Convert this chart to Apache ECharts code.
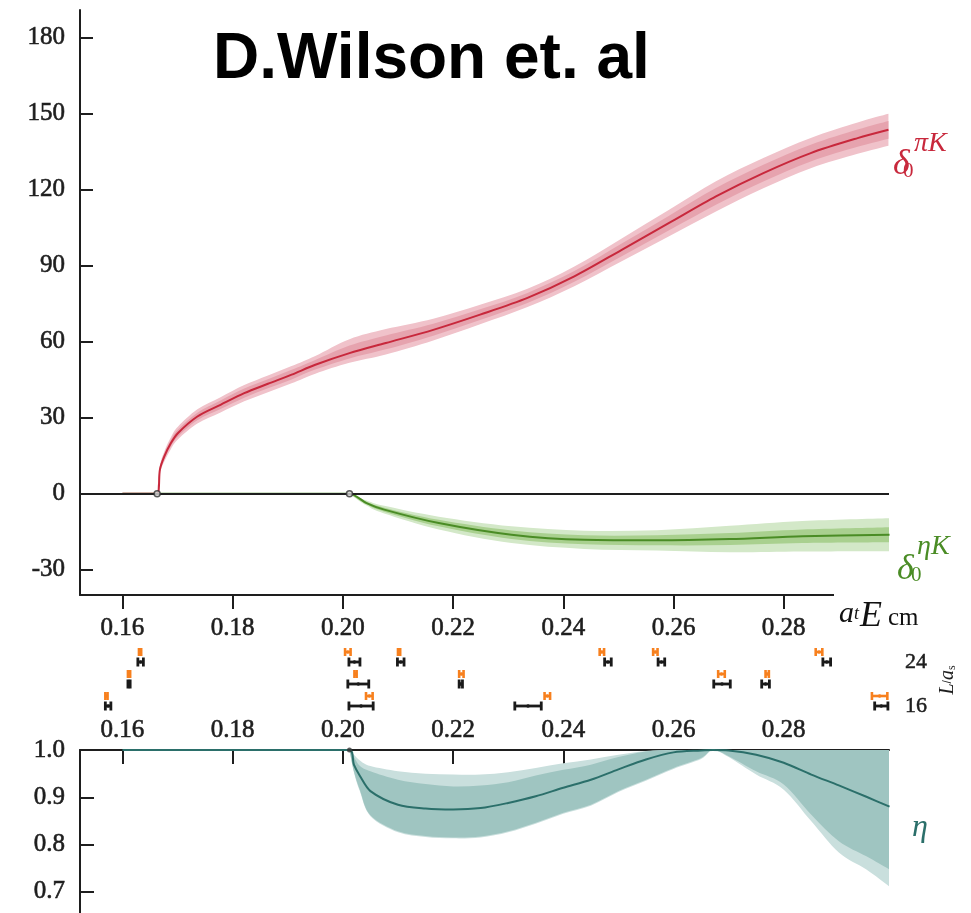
<!DOCTYPE html>
<html>
<head>
<meta charset="utf-8">
<script src="https://cdn.jsdelivr.net/npm/echarts@6/dist/echarts.min.js"></script>
<style>
  html, body { margin: 0; padding: 0; background: #fff; }
  #chart { width: 971px; height: 913px; }
</style>
</head>
<body>
<div id="chart"></div>
<script>
// ---- axes ----
const XMIN = 0.1523, XMAX = 0.2991;
const xTicks = [0.16, 0.18, 0.20, 0.22, 0.24, 0.26, 0.28];
const deltaTicks = [-30, 0, 30, 60, 90, 120, 150, 180];
const etaTicks = [0.7, 0.8, 0.9, 1.0];
const volumes = ['16', '20', '24'];

// ---- thresholds (πK and ηK openings) ----
const thresholds = [[0.1663, 0], [0.2012, 0]];
const etaThreshold = [[0.2012, 1.0]];

// ---- δ0 πK phase shift (degrees) ----
const piK_x     = [0.1600, 0.1663, 0.1668, 0.1676, 0.1688, 0.1701, 0.1736, 0.1778, 0.1821, 0.1864, 0.1907, 0.1950, 0.2012, 0.2078, 0.2164, 0.2249, 0.2335, 0.2420, 0.2506, 0.2592, 0.2677, 0.2763, 0.2849, 0.2934, 0.2990];
const piK_mid   = [0, 0, 9.5, 14.7, 20.0, 24.0, 30.5, 35.1, 39.7, 43.4, 47.0, 50.9, 55.5, 59.5, 64.7, 70.7, 77.3, 85.8, 96.3, 106.9, 117.4, 126.6, 134.5, 140.4, 143.7];
const piK_hiOut = [0, 0, 11.0, 16.7, 22.3, 26.5, 33.3, 38.1, 42.9, 46.7, 50.4, 54.4, 61.0, 65.0, 69.1, 74.6, 80.9, 89.7, 100.8, 112.1, 123.4, 132.6, 140.5, 146.6, 150.0];
const piK_loOut = [0, 0, 8.0, 12.7, 17.7, 21.5, 27.7, 32.1, 36.5, 40.1, 43.6, 47.4, 51.7, 55.0, 60.5, 66.9, 73.7, 81.9, 91.8, 101.7, 111.4, 120.6, 128.5, 134.2, 137.4];
const piK_hiIn  = [0, 0, 10.3, 15.8, 21.3, 25.4, 32.0, 36.8, 41.5, 45.2, 48.9, 52.8, 58.5, 62.5, 67.1, 72.8, 79.3, 87.9, 98.8, 109.8, 120.7, 129.9, 137.8, 143.8, 147.2];
const piK_loIn  = [0, 0, 8.7, 13.6, 18.7, 22.6, 29.0, 33.4, 37.9, 41.6, 45.1, 49.0, 53.4, 57.0, 62.4, 68.6, 75.3, 83.7, 93.8, 104.0, 114.1, 123.3, 131.2, 137.0, 140.2];

// ---- δ0 ηK phase shift (degrees) ----
const etaK_x     = [0.1600, 0.2012, 0.2043, 0.2075, 0.2174, 0.2306, 0.2438, 0.2570, 0.2702, 0.2834, 0.2992];
const etaK_mid   = [0, 0, -3.7, -6.3, -11.6, -16.2, -18.2, -18.4, -17.9, -16.8, -16.2];
const etaK_hiOut = [0, 0, -2.7, -4.8, -9.1, -12.9, -14.6, -14.4, -12.7, -10.8, -9.7];
const etaK_loOut = [0, 0, -4.7, -7.8, -14.1, -19.5, -21.8, -22.4, -23.1, -22.8, -22.7];
const etaK_hiIn  = [0, 0, -3.2, -5.5, -10.3, -14.5, -16.4, -16.4, -15.5, -14.1, -13.2];
const etaK_loIn  = [0, 0, -4.2, -7.1, -12.9, -17.9, -20.0, -20.4, -20.3, -19.5, -19.2];

// ---- inelasticity η ----
const eta_x     = [0.1600, 0.2012, 0.2020, 0.2031, 0.2050, 0.2100, 0.2150, 0.2200, 0.2250, 0.2300, 0.2350, 0.2400, 0.2450, 0.2500, 0.2550, 0.2600, 0.2650, 0.2671, 0.2700, 0.2750, 0.2800, 0.2850, 0.2900, 0.2950, 0.2992];
const eta_mid   = [1, 1, 0.969, 0.945, 0.913, 0.884, 0.876, 0.874, 0.877, 0.888, 0.902, 0.920, 0.937, 0.959, 0.980, 0.995, 0.999, 1.0, 0.999, 0.990, 0.973, 0.948, 0.925, 0.901, 0.880];
const eta_hiOut = [1, 1, 0.990, 0.978, 0.966, 0.955, 0.950, 0.948, 0.948, 0.953, 0.962, 0.972, 0.980, 0.990, 0.998, 1.0, 1.0, 1.0, 1.0, 1.0, 1.0, 1.0, 1.0, 1.0, 1.0];
const eta_hiIn  = [1, 1, 0.985, 0.966, 0.955, 0.937, 0.928, 0.923, 0.925, 0.932, 0.946, 0.958, 0.969, 0.985, 0.997, 1.0, 1.0, 1.0, 1.0, 1.0, 1.0, 1.0, 1.0, 1.0, 1.0];
const eta_loIn  = [1, 1, 0.955, 0.915, 0.862, 0.828, 0.818, 0.815, 0.817, 0.828, 0.846, 0.867, 0.884, 0.913, 0.937, 0.962, 0.983, 1.0, 0.987, 0.955, 0.927, 0.863, 0.807, 0.775, 0.747];
const eta_loOut = [1, 1, 0.953, 0.912, 0.860, 0.826, 0.816, 0.813, 0.815, 0.826, 0.844, 0.865, 0.882, 0.911, 0.935, 0.960, 0.981, 1.0, 0.985, 0.948, 0.916, 0.849, 0.783, 0.747, 0.711];

// ---- finite-volume energy levels: [energy, error] per volume ----
const levels24 = [[0.1633, 0.0005], [0.2021, 0.0010], [0.2105, 0.0006], [0.2481, 0.0006], [0.2578, 0.0006], [0.2878, 0.0007]];
const levels20 = [[0.1612, 0.0002], [0.2028, 0.0019], [0.2214, 0.0003], [0.2688, 0.0015], [0.2767, 0.0007]];
const levels16 = [[0.1574, 0.0005], [0.2033, 0.0022], [0.2336, 0.0024], [0.2977, 0.0012]];
const model24  = [[0.1632, 0.0002], [0.2009, 0.0005], [0.2102, 0.0002], [0.2470, 0.0004], [0.2567, 0.0004], [0.2864, 0.0006]];
const model20  = [[0.1612, 0.0002], [0.2023, 0.0002], [0.2215, 0.0004], [0.2687, 0.0006], [0.2770, 0.0003]];
const model16  = [[0.1571, 0.0002], [0.2048, 0.0006], [0.2371, 0.0005], [0.2974, 0.0014]];

// ---- colours ----
const RED = '#c8283c', RED_OUT = '#f0c2ca', RED_IN = '#e6a3ae';
const GREEN = '#4a8c25', GREEN_OUT = '#d3e8c8', GREEN_IN = '#a9d08f';
const TEAL = '#2b6f6a', TEAL_OUT = '#c9dfdd', TEAL_IN = '#9fc5c1';
const ORANGE = '#f7801e', INK = '#1e1e1e';
const SERIF = 'Liberation Serif';

function pairs(xs, ys) { return xs.map((x, i) => [x, ys[i]]); }

// Catmull-Rom style cubic segments through pixel points (path commands after the first point)
function smoothSegments(p) {
  let d = '';
  const k = 1 / 6;
  for (let i = 0; i < p.length - 1; i++) {
    const p0 = p[Math.max(i - 1, 0)], p1 = p[i], p2 = p[i + 1], p3 = p[Math.min(i + 2, p.length - 1)];
    const c1x = p1[0] + (p2[0] - p0[0]) * k, c1y = p1[1] + (p2[1] - p0[1]) * k;
    const c2x = p2[0] - (p3[0] - p1[0]) * k, c2y = p2[1] - (p3[1] - p1[1]) * k;
    d += ' C' + c1x + ' ' + c1y + ' ' + c2x + ' ' + c2y + ' ' + p2[0] + ' ' + p2[1];
  }
  return d;
}

// Shaded band between lo and hi, drawn as one closed path in axis coordinates
function band(xs, lo, hi, color, axis, z) {
  return {
    type: 'custom', xAxisIndex: axis, yAxisIndex: axis, silent: true, z: z, clip: true,
    data: [[xs[0], lo[0]]],
    renderItem: function (params, api) {
      const up = xs.map((x, i) => api.coord([x, hi[i]]));
      const dn = xs.map((x, i) => api.coord([x, lo[i]])).reverse();
      const d = 'M' + up[0][0] + ' ' + up[0][1] + smoothSegments(up) +
                ' L' + dn[0][0] + ' ' + dn[0][1] + smoothSegments(dn) + ' Z';
      return { type: 'path', shape: { pathData: d }, style: { fill: color } };
    }
  };
}

function curve(xs, ys, color, axis, z) {
  return { type: 'line', xAxisIndex: axis, yAxisIndex: axis, data: pairs(xs, ys),
    smooth: 0.3, symbol: 'none', silent: true, z: z,
    lineStyle: { color: color, width: 2 } };
}

// Horizontal error bars with end caps for the energy levels
function levelBars(list, row, color, dy, cap, lw, r) {
  return {
    type: 'custom', xAxisIndex: 1, yAxisIndex: 1, silent: true, z: 5,
    data: list.map(p => [p[0], row, p[1]]),
    renderItem: function (params, api) {
      const x = api.value(0), yi = api.value(1), e = api.value(2);
      const c = api.coord([x, yi]);
      const l = api.coord([x - e, yi])[0], rr = api.coord([x + e, yi])[0];
      const y = c[1] + dy;
      const st = { stroke: color, lineWidth: lw };
      return { type: 'group', children: [
        { type: 'line', shape: { x1: l, y1: y, x2: rr, y2: y }, style: st },
        { type: 'line', shape: { x1: l, y1: y - cap, x2: l, y2: y + cap }, style: st },
        { type: 'line', shape: { x1: rr, y1: y - cap, x2: rr, y2: y + cap }, style: st },
        { type: 'circle', shape: { cx: c[0], cy: y, r: r }, style: { fill: color } }
      ] };
    }
  };
}

const labelFont = { fontFamily: SERIF, fontSize: 25, color: INK, textBorderColor: INK, textBorderWidth: 0.6 };
const axisLineStyle = { color: INK, width: 2 };

const option = {
  animation: false,
  backgroundColor: '#fff',
  grid: [
    { left: 80, top: 10, width: 809, height: 585, outerBoundsMode: 'none' },
    { left: 80, top: 651, width: 809, height: 66, outerBoundsMode: 'none' },
    { left: 80, top: 750, width: 809, height: 189, outerBoundsMode: 'none' }
  ],
  xAxis: [
    { gridIndex: 0, type: 'value', min: XMIN, max: XMAX, position: 'bottom',
      axisLine: { show: true, onZero: false, lineStyle: axisLineStyle },
      axisTick: { show: true, inside: false, length: 14, lineStyle: axisLineStyle, customValues: xTicks },
      axisLabel: Object.assign({ margin: 21, customValues: xTicks, formatter: v => v.toFixed(2) }, labelFont),
      splitLine: { show: false } },
    { gridIndex: 1, type: 'value', min: XMIN, max: XMAX, show: false },
    { gridIndex: 2, type: 'value', min: XMIN, max: XMAX, position: 'top',
      axisLine: { show: true, onZero: false, lineStyle: axisLineStyle },
      axisTick: { show: true, inside: true, length: 14, lineStyle: axisLineStyle, customValues: xTicks },
      axisLabel: Object.assign({ margin: 7, customValues: xTicks, formatter: v => v.toFixed(2) }, labelFont),
      splitLine: { show: false } }
  ],
  yAxis: [
    { gridIndex: 0, type: 'value', min: -40, max: 191,
      axisLine: { show: true, onZero: false, lineStyle: axisLineStyle },
      axisTick: { show: true, inside: true, length: 13, lineStyle: axisLineStyle, customValues: deltaTicks },
      axisLabel: Object.assign({ margin: 15, customValues: deltaTicks }, labelFont),
      splitLine: { show: false } },
    { gridIndex: 1, type: 'category', data: volumes, position: 'right',
      axisLine: { show: false }, axisTick: { show: false },
      axisLabel: { margin: 16, fontFamily: SERIF, fontSize: 22, color: INK, padding: [0, 0, 6, 0],
        textBorderColor: INK, textBorderWidth: 0.5 },
      splitLine: { show: false } },
    { gridIndex: 2, type: 'value', min: 0.6, max: 1.0,
      axisLine: { show: true, onZero: false, lineStyle: axisLineStyle },
      axisTick: { show: true, inside: true, length: 14, lineStyle: axisLineStyle, customValues: etaTicks },
      axisLabel: Object.assign({ margin: 15, customValues: etaTicks, formatter: v => v.toFixed(1) }, labelFont),
      splitLine: { show: false } }
  ],
  series: [
    band(piK_x.slice(1), piK_loOut.slice(1), piK_hiOut.slice(1), RED_OUT, 0, 1),
    band(piK_x.slice(1), piK_loIn.slice(1), piK_hiIn.slice(1), RED_IN, 0, 1),
    band(etaK_x.slice(1), etaK_loOut.slice(1), etaK_hiOut.slice(1), GREEN_OUT, 0, 1),
    band(etaK_x.slice(1), etaK_loIn.slice(1), etaK_hiIn.slice(1), GREEN_IN, 0, 1),
    band(eta_x.slice(1), eta_loOut.slice(1), eta_hiOut.slice(1), TEAL_OUT, 2, 1),
    band(eta_x.slice(1), eta_loIn.slice(1), eta_hiIn.slice(1), TEAL_IN, 2, 1),
    { type: 'line', xAxisIndex: 0, yAxisIndex: 0, data: [], silent: true, z: 2,
      markLine: { silent: true, symbol: 'none', label: { show: false },
        lineStyle: { color: INK, width: 2, type: 'solid' }, data: [{ yAxis: 0 }] } },
    curve(etaK_x, etaK_mid, GREEN, 0, 3),
    curve(piK_x, piK_mid, RED, 0, 4),
    curve(eta_x, eta_mid, TEAL, 2, 3),
    { type: 'scatter', xAxisIndex: 0, yAxisIndex: 0, data: thresholds, symbol: 'circle', symbolSize: 6,
      silent: true, z: 6, itemStyle: { color: '#d8d8d8', borderColor: '#333', borderWidth: 1.5 } },
    { type: 'scatter', xAxisIndex: 2, yAxisIndex: 2, data: etaThreshold, symbol: 'circle', symbolSize: 5,
      silent: true, z: 6, itemStyle: { color: '#333' } },
    levelBars(levels24, '24', '#1a1a1a', 0, 4.5, 2.8, 1.8),
    levelBars(levels20, '20', '#1a1a1a', 0, 4.5, 2.8, 1.8),
    levelBars(levels16, '16', '#1a1a1a', 0, 4.5, 2.8, 1.8),
    levelBars(model24, '24', ORANGE, -10, 4, 2.6, 1.8),
    levelBars(model20, '20', ORANGE, -10, 4, 2.6, 1.8),
    levelBars(model16, '16', ORANGE, -10, 4, 2.6, 1.8)
  ],
  graphic: [
    { type: 'text', x: 213, y: 60, z: 100,
      style: { text: 'D.Wilson et. al', fontFamily: 'Liberation Sans', fontWeight: 'bold', fontSize: 64,
        fill: '#000', verticalAlign: 'middle' } },
    // δ0^πK
    { type: 'text', x: 893, y: 147, z: 100,
      style: { text: 'δ', fontFamily: SERIF, fontStyle: 'italic', fontSize: 36, fill: RED, verticalAlign: 'alphabetic' } },
    { type: 'text', x: 903, y: 161, z: 100,
      style: { text: '0', fontFamily: SERIF, fontSize: 21, fill: RED, verticalAlign: 'alphabetic' } },
    { type: 'text', x: 914, y: 130, z: 100,
      style: { text: 'πK', fontFamily: SERIF, fontStyle: 'italic', fontSize: 28, fill: RED, verticalAlign: 'alphabetic' } },
    // δ0^ηK
    { type: 'text', x: 897, y: 552, z: 100,
      style: { text: 'δ', fontFamily: SERIF, fontStyle: 'italic', fontSize: 36, fill: GREEN, verticalAlign: 'alphabetic' } },
    { type: 'text', x: 911, y: 565, z: 100,
      style: { text: '0', fontFamily: SERIF, fontSize: 21, fill: GREEN, verticalAlign: 'alphabetic' } },
    { type: 'text', x: 917, y: 533, z: 100,
      style: { text: 'ηK', fontFamily: SERIF, fontStyle: 'italic', fontSize: 28, fill: GREEN, verticalAlign: 'alphabetic' } },
    // η
    { type: 'text', x: 912, y: 812, z: 100,
      style: { text: 'η', fontFamily: SERIF, fontStyle: 'italic', fontSize: 32, fill: TEAL, verticalAlign: 'alphabetic' } },
    // a_t E_cm axis title
    { type: 'rect', z: 99, shape: { x: 834, y: 586, width: 100, height: 14 }, style: { fill: '#fff' } },
    { type: 'text', x: 839, y: 599, z: 100,
      style: { text: 'a', fontFamily: SERIF, fontStyle: 'italic', fontSize: 30, fill: '#111', verticalAlign: 'alphabetic' } },
    { type: 'text', x: 854, y: 605, z: 100,
      style: { text: 't', fontFamily: SERIF, fontStyle: 'italic', fontSize: 18, fill: '#111', verticalAlign: 'alphabetic' } },
    { type: 'text', x: 860, y: 599, z: 100,
      style: { text: 'E', fontFamily: SERIF, fontStyle: 'italic', fontSize: 36, fill: '#111', verticalAlign: 'alphabetic' } },
    { type: 'text', x: 888, y: 606, z: 100,
      style: { text: 'cm', fontFamily: SERIF, fontSize: 25, fill: '#111', verticalAlign: 'alphabetic' } },
    // L/a_s volume label
    { type: 'text', x: 948, y: 680, z: 100, rotation: Math.PI / 2,
      style: { text: '{i|L}/{i|a}{s|s}', align: 'center', verticalAlign: 'middle', fill: INK,
        rich: { i: { fontFamily: SERIF, fontStyle: 'italic', fontSize: 20, fill: INK },
                s: { fontFamily: SERIF, fontSize: 12, fill: INK, padding: [8, 0, 0, 0] } } } }
  ]
};

const chart = echarts.init(document.getElementById('chart'), null, { renderer: 'canvas' });
chart.setOption(option);
</script>
</body>
</html>
